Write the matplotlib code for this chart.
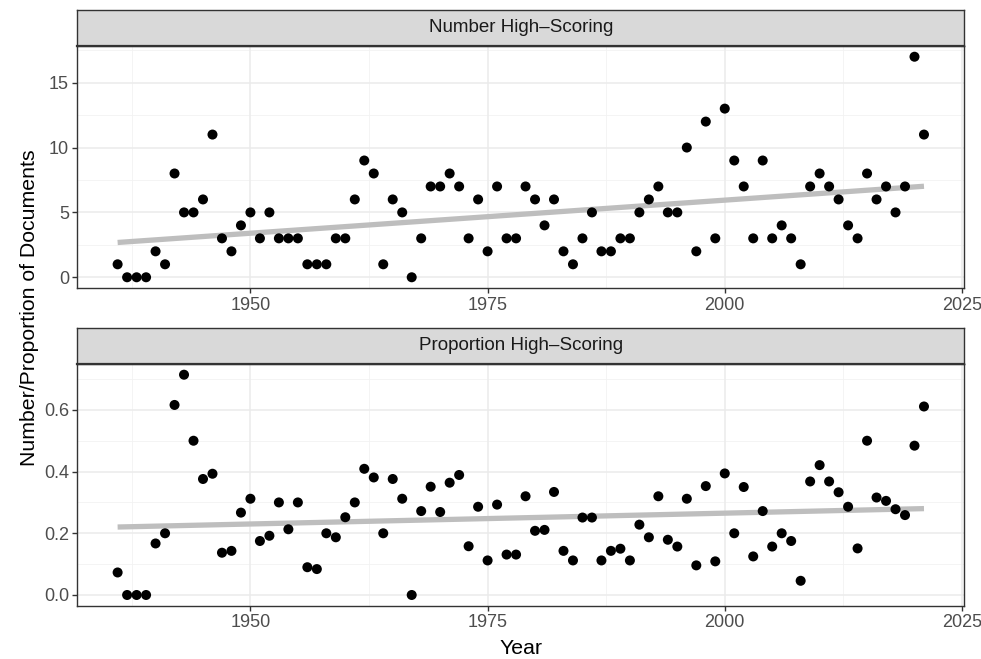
import matplotlib
matplotlib.use("Agg")
import matplotlib.pyplot as plt
import numpy as np

plt.rcParams['font.family'] = ['Liberation Sans', 'DejaVu Sans']

years = list(range(1936, 2022))

n_high = [1, 0, 0, 0, 2, 1, 8, 5, 5, 6,
          11, 3, 2, 4, 5, 3, 5, 3, 3, 3,
          1, 1, 1, 3, 3, 6, 9, 8, 1, 6,
          5, 0, 3, 7, 7, 8, 7, 3, 6, 2,
          7, 3, 3, 7, 6, 4, 6, 2, 1, 3,
          5, 2, 2, 3, 3, 5, 6, 7, 5, 5,
          10, 2, 12, 3, 13, 9, 7, 3, 9, 3,
          4, 3, 1, 7, 8, 7, 6, 4, 3, 8,
          6, 7, 5, 7, 17, 11]

prop_high = [0.073, 0.0, 0.0, 0.0, 0.167, 0.2, 0.616, 0.714, 0.5, 0.376,
             0.393, 0.137, 0.143, 0.267, 0.312, 0.175, 0.192, 0.3, 0.213, 0.3,
             0.09, 0.084, 0.2, 0.187, 0.252, 0.3, 0.409, 0.381, 0.2, 0.376,
             0.312, 0.0, 0.272, 0.351, 0.269, 0.364, 0.389, 0.158, 0.286, 0.112,
             0.293, 0.131, 0.131, 0.32, 0.208, 0.211, 0.334, 0.143, 0.112, 0.251,
             0.251, 0.112, 0.143, 0.15, 0.112, 0.228, 0.187, 0.32, 0.179, 0.157,
             0.312, 0.096, 0.353, 0.109, 0.394, 0.2, 0.35, 0.125, 0.272, 0.157,
             0.2, 0.175, 0.046, 0.368, 0.421, 0.368, 0.333, 0.286, 0.151, 0.5,
             0.316, 0.305, 0.278, 0.259, 0.484, 0.611]

panels = [
    ("Number High\u2013Scoring", n_high, [0, 5, 10, 15], ["0", "5", "10", "15"],
     [2.5, 7.5, 12.5, 17.5]),
    ("Proportion High\u2013Scoring", prop_high, [0.0, 0.2, 0.4, 0.6],
     ["0.0", "0.2", "0.4", "0.6"], [0.1, 0.3, 0.5, 0.7]),
]

W, H = 981, 659
fig = plt.figure(figsize=(W / 100, H / 100), dpi=100)

# panel boxes in pixels: (left, right, strip_top, panel_top, panel_bottom)
boxes = [(77.3, 964.3, 10.0, 45.7, 288.3),
         (77.3, 964.3, 328.3, 363.7, 606.0)]

dark = '#333333'
xmajor = [1950, 1975, 2000, 2025]
xminor = [1937.5, 1962.5, 1987.5, 2012.5]
x = np.array(years, dtype=float)

for (title, vals, yt, ytl, yminor), (l, r, st, pt, pb) in zip(panels, boxes):
    y = np.array(vals, dtype=float)
    ax = fig.add_axes([l / W, 1 - pb / H, (r - l) / W, (pb - pt) / H])
    ax.set_facecolor('white')

    xr = x.max() - x.min()
    ax.set_xlim(x.min() - 0.05 * xr, x.max() + 0.05 * xr)
    yr = y.max() - y.min()
    ax.set_ylim(y.min() - 0.05 * yr, y.max() + 0.05 * yr)

    for v in xminor:
        ax.axvline(v, color='#F2F2F2', lw=0.6, zorder=0)
    for v in yminor:
        ax.axhline(v, color='#F2F2F2', lw=0.6, zorder=0)
    for v in xmajor:
        ax.axvline(v, color='#EBEBEB', lw=1.1, zorder=0)
    for v in yt:
        ax.axhline(v, color='#EBEBEB', lw=1.1, zorder=0)

    # linear trend
    b, a = np.polyfit(x, y, 1)
    ax.plot(x[[0, -1]], a + b * x[[0, -1]], color='#BEBEBE', lw=3.8,
            solid_capstyle='butt', zorder=2)

    ax.scatter(x, y, s=52, color='black', edgecolors='none', zorder=3)

    ax.set_xticks(xmajor)
    ax.set_xticklabels([str(v) for v in xmajor])
    ax.set_yticks(yt)
    ax.set_yticklabels(ytl)
    ax.tick_params(axis='both', colors=dark, length=3.5, width=1.0,
                   labelsize=13, labelcolor='#4D4D4D', pad=2.5)
    for sp in ax.spines.values():
        sp.set_color(dark)
        sp.set_linewidth(1.0)

    sax = fig.add_axes([l / W, 1 - pt / H, (r - l) / W, (pt - st) / H])
    sax.set_facecolor('#D9D9D9')
    sax.set_xticks([])
    sax.set_yticks([])
    for sp in sax.spines.values():
        sp.set_color(dark)
        sp.set_linewidth(1.0)
    sax.spines['bottom'].set_linewidth(1.6)
    sax.text(0.5, 0.5, title, ha='center', va='center', fontsize=13.5,
             color='#1A1A1A', transform=sax.transAxes)

fig.text(30 / W, 1 - 308 / H, "Number/Proportion of Documents", rotation=90,
         ha='center', va='center', fontsize=15.3)
fig.text(520.8 / W, 1 - 649 / H, "Year", ha='center', va='center', fontsize=15.3)

fig.savefig("out.png", dpi=100)
